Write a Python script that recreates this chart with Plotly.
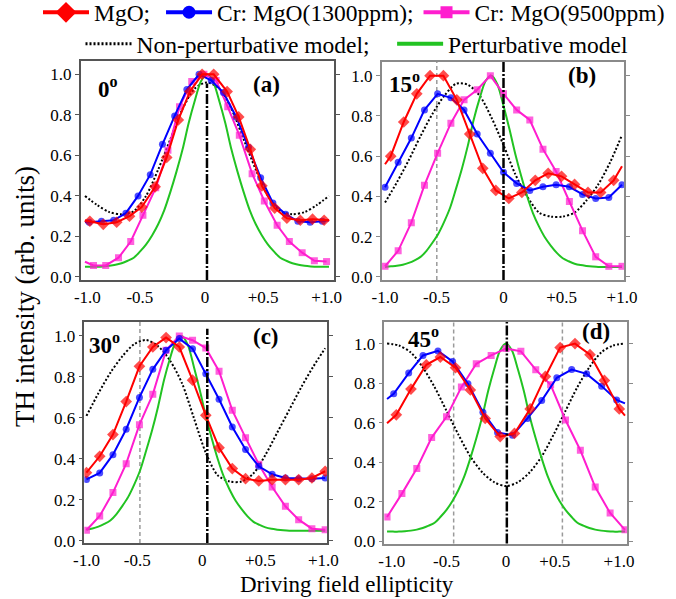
import plotly.graph_objects as go

# ---------------------------------------------------------------- data ----
# sampling grid of the non-perturbative model curve
MODEL_X = [-1.0, -0.9, -0.8, -0.7, -0.6, -0.5, -0.4, -0.3, -0.2, -0.1, 0.0,
           0.1, 0.2, 0.3, 0.4, 0.5, 0.6, 0.7, 0.8, 0.9, 1.0]
# finer sampling grid of the perturbative model curve
PERT_X = [-1.0, -0.95, -0.9, -0.85, -0.8, -0.75, -0.7, -0.65, -0.6, -0.55, -0.5,
          -0.45, -0.4, -0.35, -0.3, -0.25, -0.2, -0.15, -0.1, -0.05, 0.0,
          0.05, 0.1, 0.15, 0.2, 0.25, 0.3, 0.35, 0.4, 0.45, 0.5,
          0.55, 0.6, 0.65, 0.7, 0.75, 0.8, 0.85, 0.9, 0.95, 1.0]
GRID19 = [-1.0, -0.889, -0.778, -0.667, -0.556, -0.444, -0.333, -0.222, -0.111, 0.0,
          0.111, 0.222, 0.333, 0.444, 0.556, 0.667, 0.778, 0.889, 1.0]

# (a) 0 deg
MGO_A_X = [-0.96, -0.85, -0.74, -0.635, -0.535, -0.425, -0.33, -0.235, -0.14, -0.04,
           0.055, 0.165, 0.26, 0.355, 0.45, 0.555, 0.655, 0.765, 0.865, 0.96]
MGO_A_Y = [0.275, 0.26, 0.27, 0.30, 0.345, 0.445, 0.59, 0.775, 0.915, 1.0,
           1.0, 0.915, 0.79, 0.63, 0.45, 0.34, 0.29, 0.28, 0.285, 0.28]
MGO_A_EDGE = (0.28, 0.28)
CR13_A_X = [-0.965, -0.865, -0.765, -0.665, -0.565, -0.465, -0.365, -0.265, -0.165, -0.065,
            0.035, 0.135, 0.24, 0.34, 0.44, 0.54, 0.645, 0.745, 0.845, 0.945]
CR13_A_Y = [0.27, 0.275, 0.28, 0.315, 0.40, 0.505, 0.655, 0.795, 0.925, 1.0,
            0.97, 0.91, 0.79, 0.64, 0.49, 0.365, 0.31, 0.275, 0.27, 0.275]
CR13_A_EDGE = (0.27, 0.28)
CR95_A_X = [-0.93, -0.83, -0.725, -0.625, -0.525, -0.42, -0.32, -0.225, -0.125, -0.025,
            0.075, 0.17, 0.265, 0.37, 0.47, 0.575, 0.675, 0.78, 0.88, 0.98]
CR95_A_Y = [0.057, 0.057, 0.095, 0.175, 0.305, 0.44, 0.625, 0.84, 0.965, 1.0,
            0.97, 0.84, 0.70, 0.51, 0.375, 0.255, 0.175, 0.12, 0.08, 0.076]
CR95_A_EDGE = (0.075, None)
NONPERT_A = [0.40, 0.355, 0.32, 0.31, 0.325, 0.40, 0.53, 0.68, 0.83, 0.93, 0.96,
             0.93, 0.83, 0.68, 0.53, 0.40, 0.325, 0.31, 0.32, 0.355, 0.40]
PERT_A = [0.05, 0.05, 0.05, 0.052, 0.055, 0.06, 0.068, 0.08, 0.095, 0.125, 0.16,
          0.205, 0.26, 0.33, 0.42, 0.52, 0.63, 0.76, 0.87, 0.965, 1.0,
          0.965, 0.87, 0.76, 0.63, 0.52, 0.42, 0.33, 0.26, 0.205, 0.16,
          0.125, 0.095, 0.08, 0.068, 0.06, 0.055, 0.052, 0.05, 0.05, 0.05]

# (b) 15 deg
MGO_B_X = [-0.952, -0.842, -0.732, -0.62, -0.507, -0.394, -0.285, -0.175, -0.065,
           0.045, 0.155, 0.268, 0.377, 0.49, 0.6, 0.713, 0.82, 0.93]
MGO_B_Y = [0.60, 0.77, 0.91, 1.0, 1.0, 0.88, 0.71, 0.54, 0.43,
           0.39, 0.42, 0.48, 0.515, 0.50, 0.46, 0.42, 0.42, 0.48]
MGO_B_EDGE = (0.56, 0.55)
CR13_B_Y = [0.446, 0.57, 0.69, 0.83, 0.91, 0.89, 0.83, 0.71, 0.615, 0.52,
            0.465, 0.43, 0.448, 0.458, 0.448, 0.41, 0.39, 0.395, 0.458]
CR95_B_Y = [0.053, 0.13, 0.27, 0.456, 0.615, 0.764, 0.88, 0.93, 1.0, 0.91,
            0.83, 0.78, 0.635, 0.524, 0.375, 0.23, 0.10, 0.053, 0.053]
NONPERT_B = [0.37, 0.47, 0.58, 0.70, 0.81, 0.90, 0.96, 0.955, 0.90, 0.79, 0.655,
             0.51, 0.40, 0.32, 0.30, 0.30, 0.32, 0.38, 0.46, 0.57, 0.705]
PERT_B = [0.05, 0.053, 0.056, 0.061, 0.07, 0.083, 0.10, 0.13, 0.17, 0.215, 0.275,
          0.345, 0.44, 0.54, 0.655, 0.785, 0.89, 0.975, 1.0, 0.955, 0.85,
          0.735, 0.61, 0.50, 0.40, 0.315, 0.25, 0.196, 0.155, 0.12, 0.093,
          0.078, 0.066, 0.059, 0.055, 0.052, 0.05, 0.05, 0.05, 0.05, 0.05]

# (c) 30 deg
MGO_C_Y = [0.333, 0.413, 0.519, 0.68, 0.852, 0.946, 0.992, 0.946, 0.784, 0.613,
           0.455, 0.353, 0.304, 0.293, 0.299, 0.299, 0.299, 0.307, 0.34]
CR13_C_Y = [0.30, 0.332, 0.421, 0.545, 0.70, 0.837, 0.93, 0.987, 0.938, 0.816,
            0.691, 0.556, 0.446, 0.364, 0.325, 0.307, 0.304, 0.304, 0.307]
CR95_C_Y = [0.052, 0.122, 0.236, 0.377, 0.567, 0.715, 0.93, 1.0, 0.979, 0.941,
            0.828, 0.637, 0.504, 0.374, 0.263, 0.169, 0.104, 0.06, 0.055]
NONPERT_C = [0.61, 0.72, 0.82, 0.90, 0.96, 0.98, 0.95, 0.88, 0.77, 0.60, 0.43,
             0.32, 0.29, 0.29, 0.33, 0.42, 0.53, 0.64, 0.75, 0.85, 0.94]
PERT_C = [0.056, 0.061, 0.07, 0.083, 0.10, 0.13, 0.17, 0.215, 0.275, 0.345, 0.44,
          0.54, 0.655, 0.785, 0.89, 0.975, 1.0, 0.955, 0.85, 0.735, 0.61,
          0.50, 0.40, 0.315, 0.25, 0.196, 0.155, 0.12, 0.093, 0.078, 0.066,
          0.059, 0.055, 0.052, 0.05, 0.05, 0.05, 0.05, 0.05, 0.05, 0.05]

# (d) 45 deg
MGO_D_X = [-0.922, -0.799, -0.67, -0.552, -0.424, -0.30, -0.175, -0.049,
           0.071, 0.203, 0.331, 0.455, 0.58, 0.706, 0.827, 0.952]
MGO_D_Y = [0.64, 0.77, 0.893, 0.932, 0.878, 0.766, 0.622, 0.53,
           0.546, 0.67, 0.834, 0.98, 1.0, 0.944, 0.814, 0.67]
MGO_D_EDGE = (0.597, 0.636)
CR13_D_X = [-0.944, -0.818, -0.698, -0.572, -0.449, -0.32, -0.194, -0.071,
            0.055, 0.18, 0.30, 0.427, 0.552, 0.678, 0.804, 0.93]
CR13_D_Y = [0.746, 0.851, 0.94, 0.963, 0.91, 0.797, 0.653, 0.551,
            0.537, 0.622, 0.712, 0.827, 0.869, 0.847, 0.785, 0.715]
CR13_D_EDGE = (0.72, 0.698)
CR95_D_X = [-1.0, -0.875, -0.75, -0.625, -0.5, -0.375, -0.25, -0.125, 0.0,
            0.125, 0.25, 0.375, 0.5, 0.625, 0.75, 0.875, 1.0]
CR95_D_Y = [0.124, 0.242, 0.369, 0.525, 0.63, 0.78, 0.898, 0.94, 0.975,
            0.961, 0.868, 0.792, 0.614, 0.461, 0.275, 0.144, 0.059]
NONPERT_D = [1.0, 0.99, 0.955, 0.88, 0.78, 0.66, 0.54, 0.43, 0.35, 0.30, 0.28,
             0.30, 0.35, 0.43, 0.54, 0.66, 0.78, 0.88, 0.955, 0.99, 1.0]
PERT_D = PERT_A

# reference ellipticities marked by vertical lines
ZERO_LINE_X = [0.0, 0.0, 0.0125, 0.007]
ZERO_LINE_TOP = [0.955, None, 1.035, None]
HALF_LINES = [[], [-0.563], [-0.552], [-0.44, 0.474]]

ANGLE_LABELS = ["0", "15", "30", "45"]
PANEL_LABELS = ["(a)", "(b)", "(c)", "(d)"]
X_TICK_TEXT = ["-1.0", "-0.5", "0", "+0.5", "+1.0"]
Y_TICK_VALS = [0.0, 0.2, 0.4, 0.6, 0.8, 1.0]
SERIES_NAMES = ["MgO;", "Cr: MgO(1300ppm);", "Cr: MgO(9500ppm)",
                "Non-perturbative model;", "Perturbative model"]

# ---------------------------------------------------------------- style ---
W, H = 676, 599
SERIF = "Liberation Serif, Times New Roman, serif"
RED, BLUE, PINK, GREEN = "#ff0000", "#0000ff", "#ff1ecf", "#22c322"
NBSP = "\u00a0"


def px(x):
    return x / W


def py(y):
    return 1 - y / H


# panel frames (pixels): left, right, top, bottom ; axis ranges
FRAMES = [(80.7, 334.0, 61.0, 280.0), (381.7, 624.0, 62.0, 280.0),
          (84.3, 327.3, 322.0, 543.0), (384.3, 627.0, 322.0, 543.5)]
XRANGES = [[-1.035, 1.041], [-1.028, 1.017], [-1.018, 1.018], [-1.023, 1.017]]
YRANGES = [[-0.015, 1.066], [-0.015, 1.068], [-0.01, 1.068], [-0.01, 1.109]]
X_TICK_POS = [[-0.98, -0.55, -0.016, 0.46, 0.98], [-1.0, -0.565, 0.0, 0.49, 1.0],
              [-1.0, -0.575, -0.03, 0.457, 0.985], [-0.96, -0.50, 0.0, 0.41, 0.95]]
FRAME_COLORS = ["#555555", "#8a8a8a", "#555555", "#8a8a8a"]

fig = go.Figure()


def measured(x, y, edge, color, symbol, size, k):
    xs, ys = list(x), list(y)
    sizes = [size] * len(xs)
    if edge[0] is not None:
        xs, ys, sizes = [-1.0] + xs, [edge[0]] + ys, [0] + sizes
    if edge[1] is not None:
        xs, ys, sizes = xs + [1.0], ys + [edge[1]], sizes + [0]
    sfx = "" if k == 0 else str(k + 1)
    fig.add_trace(go.Scatter(
        x=xs, y=ys, mode="lines+markers", xaxis="x" + sfx, yaxis="y" + sfx,
        line=dict(color=color, width=2),
        marker=dict(symbol=symbol, size=sizes, color=color, line=dict(width=0)),
        showlegend=False, hoverinfo="skip"))


def model(x, y, color, dash, k):
    sfx = "" if k == 0 else str(k + 1)
    fig.add_trace(go.Scatter(
        x=x, y=y, mode="lines", xaxis="x" + sfx, yaxis="y" + sfx,
        line=dict(color=color, width=2, dash=dash, shape="spline", smoothing=0.8),
        showlegend=False, hoverinfo="skip"))


NO_EDGE = (None, None)
panels = [
    ((MGO_A_X, MGO_A_Y, MGO_A_EDGE), (CR13_A_X, CR13_A_Y, CR13_A_EDGE),
     (CR95_A_X, CR95_A_Y, CR95_A_EDGE), NONPERT_A, PERT_A),
    ((MGO_B_X, MGO_B_Y, MGO_B_EDGE), (GRID19, CR13_B_Y, NO_EDGE),
     (GRID19, CR95_B_Y, NO_EDGE), NONPERT_B, PERT_B),
    ((GRID19, MGO_C_Y, NO_EDGE), (GRID19, CR13_C_Y, NO_EDGE),
     (GRID19, CR95_C_Y, NO_EDGE), NONPERT_C, PERT_C),
    ((MGO_D_X, MGO_D_Y, MGO_D_EDGE), (CR13_D_X, CR13_D_Y, CR13_D_EDGE),
     (CR95_D_X, CR95_D_Y, NO_EDGE), NONPERT_D, PERT_D),
]

for k, (mgo, cr13, cr95, nonpert, pert) in enumerate(panels):
    model(MODEL_X, nonpert, "black", "2px,2px", k)
    model(PERT_X, pert, GREEN, "solid", k)
    measured(*cr95, PINK, "square", 7, k)
    measured(*cr13, BLUE, "circle", 7, k)
    measured(*mgo, RED, "diamond", 9, k)

# legend entries (non-breaking spaces widen the gap before the next entry)
legend_specs = [
    (SERIES_NAMES[0] + NBSP, RED, "diamond", 16, "solid", "legend", "lines+markers"),
    (SERIES_NAMES[1], BLUE, "circle", 13, "solid", "legend", "lines+markers"),
    (SERIES_NAMES[2], PINK, "square", 12, "solid", "legend", "lines+markers"),
    (SERIES_NAMES[3] + NBSP * 3, "black", None, 0, "2px,2px", "legend2", "lines"),
    (SERIES_NAMES[4], GREEN, None, 0, "solid", "legend2", "lines"),
]
for name, color, symbol, size, dash, leg, mode in legend_specs:
    tr = go.Scatter(x=[None], y=[None], name=name, mode=mode, legend=leg,
                    line=dict(color=color, width=4 if dash == "solid" else 3, dash=dash))
    if symbol:
        tr.marker = dict(symbol=symbol, size=size, color=color, line=dict(width=0))
    fig.add_trace(tr)

layout = dict(
    width=W, height=H, margin=dict(l=0, r=0, t=0, b=0, autoexpand=False),
    paper_bgcolor="white", plot_bgcolor="white",
    font=dict(family=SERIF, size=17, color="black"),
    showlegend=True,
    legend=dict(orientation="h", x=px(354), xanchor="center", y=py(12.5), yanchor="middle",
                font=dict(family=SERIF, size=23.5, color="black"), itemwidth=46,
                bgcolor="rgba(0,0,0,0)", itemclick=False),
    legend2=dict(orientation="h", x=px(357), xanchor="center", y=py(44), yanchor="middle",
                 font=dict(family=SERIF, size=23.5, color="black"), itemwidth=46,
                 bgcolor="rgba(0,0,0,0)", itemclick=False),
)

shapes = []
annotations = []
for k in range(4):
    sfx = "" if k == 0 else str(k + 1)
    l, r, t, b = FRAMES[k]
    layout["xaxis" + sfx] = dict(
        domain=[px(l), px(r)], range=XRANGES[k], anchor="y" + sfx,
        showline=True, linecolor=FRAME_COLORS[k], linewidth=1.5, mirror=True,
        showgrid=False, zeroline=False, ticks="outside", ticklen=1,
        tickcolor="rgba(0,0,0,0)", tickvals=X_TICK_POS[k], ticktext=X_TICK_TEXT,
        tickfont=dict(family=SERIF, size=17, color="black"), fixedrange=True)
    layout["yaxis" + sfx] = dict(
        domain=[py(b), py(t)], range=YRANGES[k], anchor="x" + sfx,
        showline=True, linecolor=FRAME_COLORS[k], linewidth=1.5, mirror="ticks",
        showgrid=False, zeroline=False, ticks="outside", ticklen=4,
        tickcolor=FRAME_COLORS[k], tickvals=Y_TICK_VALS, tickformat=".1f",
        tickfont=dict(family=SERIF, size=17, color="black"), fixedrange=True)

    for xv in HALF_LINES[k]:
        shapes.append(dict(type="line", xref="x" + sfx, yref="y" + sfx + " domain",
                           x0=xv, x1=xv, y0=0, y1=1, layer="below",
                           line=dict(color="#9a9a9a", width=1.5, dash="4px,3px")))
    top = ZERO_LINE_TOP[k]
    if top is None:
        shapes.append(dict(type="line", xref="x" + sfx, yref="y" + sfx + " domain",
                           x0=ZERO_LINE_X[k], x1=ZERO_LINE_X[k], y0=0, y1=1, layer="above",
                           line=dict(color="black", width=2.5, dash="10px,2px,2px,2px")))
    else:
        shapes.append(dict(type="line", xref="x" + sfx, yref="y" + sfx,
                           x0=ZERO_LINE_X[k], x1=ZERO_LINE_X[k], y0=YRANGES[k][0], y1=top,
                           layer="above",
                           line=dict(color="black", width=2.5, dash="10px,2px,2px,2px")))

# angle and panel labels (pixel positions)
ANGLE_POS = [(96, 88), (387, 82), (87, 343), (406, 337)]
PANEL_POS = [(266, 85), (582, 76), (266, 336), (596, 331)]
for k in range(4):
    annotations.append(dict(
        text="<b>%s<sup>o</sup></b>" % ANGLE_LABELS[k], xref="paper", yref="paper",
        x=px(ANGLE_POS[k][0]), y=py(ANGLE_POS[k][1]), xanchor="left", yanchor="middle",
        showarrow=False, font=dict(family=SERIF, size=23, color="black")))
    annotations.append(dict(
        text="<b>%s</b>" % PANEL_LABELS[k], xref="paper", yref="paper",
        x=px(PANEL_POS[k][0]), y=py(PANEL_POS[k][1]), xanchor="center", yanchor="middle",
        showarrow=False, font=dict(family=SERIF, size=23, color="black")))

annotations.append(dict(text="Driving field ellipticity", xref="paper", yref="paper",
                        x=px(347), y=py(584), xanchor="center", yanchor="middle",
                        showarrow=False, font=dict(family=SERIF, size=23, color="black")))
annotations.append(dict(text="TH intensity (arb. units)", xref="paper", yref="paper",
                        x=px(25), y=py(297), xanchor="center", yanchor="middle",
                        textangle=-90, showarrow=False,
                        font=dict(family=SERIF, size=27, color="black")))

layout["shapes"] = shapes
layout["annotations"] = annotations
fig.update_layout(**layout)

fig.write_html("out.html", config={"displayModeBar": False})
